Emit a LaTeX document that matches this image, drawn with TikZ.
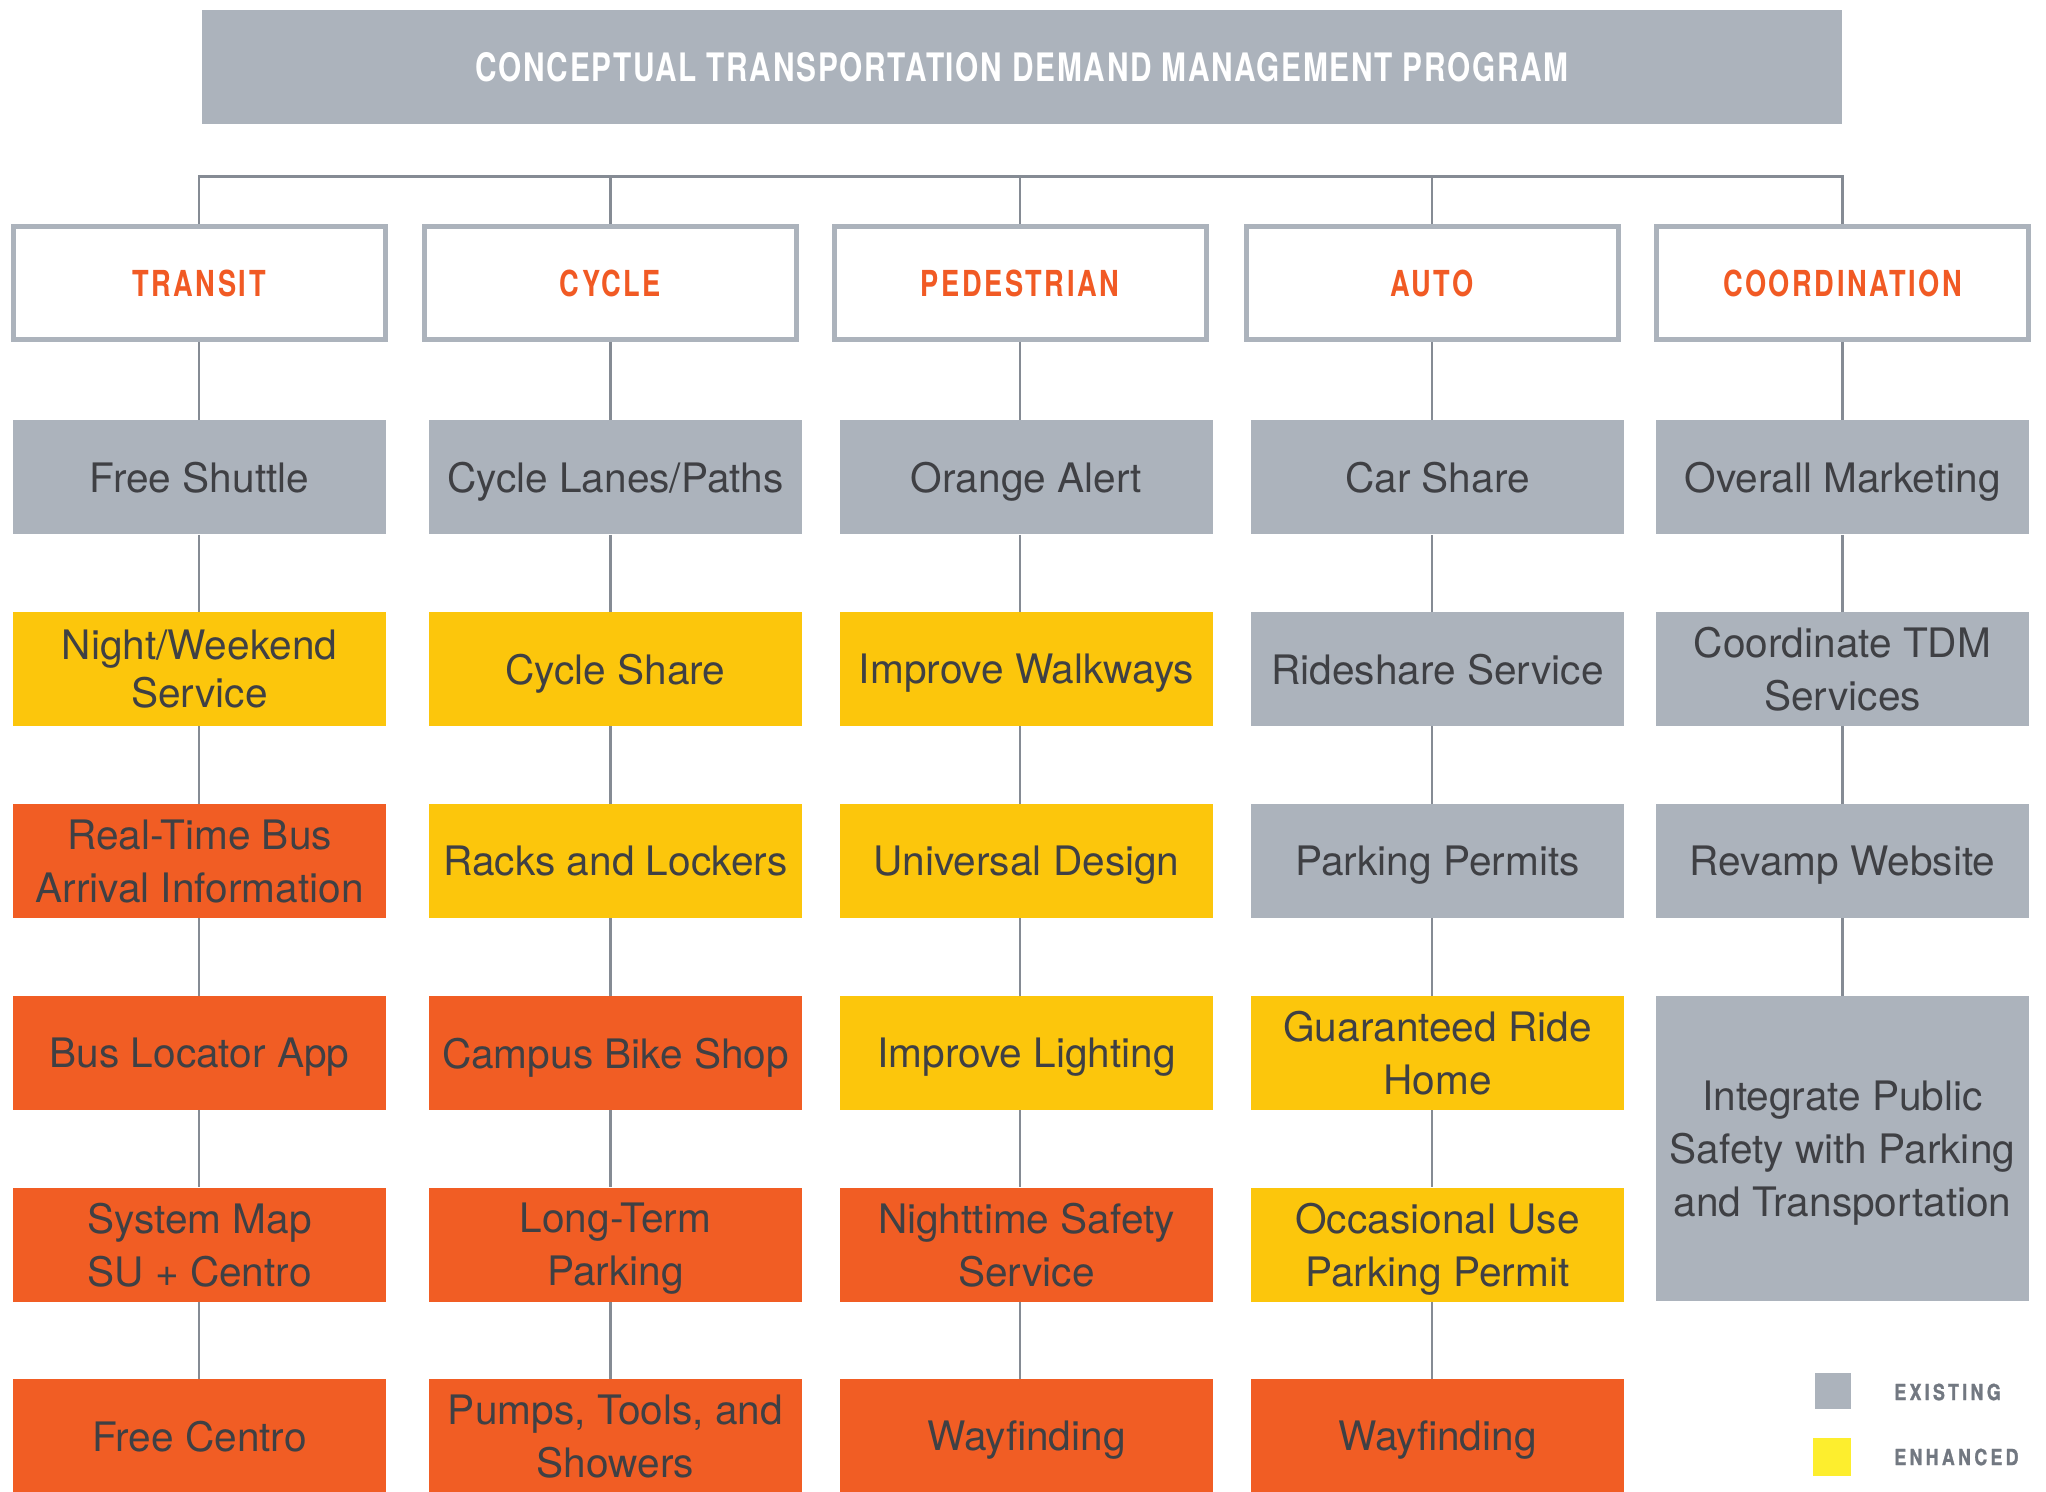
\documentclass[tikz,border=0pt]{standalone}
\usepackage{fontspec}
\setmainfont{TeX Gyre Heros}
\newfontfamily\bodyff{TeX Gyre Heros}
\newfontfamily\titleff[FakeStretch=0.76,LetterSpace=4.4]{texgyreheros-bold.otf}
\newfontfamily\hdrff[FakeStretch=0.76,LetterSpace=7.2]{texgyreheros-bold.otf}
\newfontfamily\legff[FakeStretch=0.8,LetterSpace=15,FakeBold=1.2]{texgyreheros-bold.otf}
\definecolor{gry}{HTML}{ACB3BC}
\definecolor{ylw}{HTML}{FCC60C}
\definecolor{org}{HTML}{F15D24}
\definecolor{horg}{HTML}{F15A24}
\definecolor{txt}{HTML}{3F4044}
\definecolor{lnk}{HTML}{858B94}
\definecolor{lylw}{HTML}{FDEE2E}
\definecolor{legtxt}{HTML}{727881}
\begin{document}
\begin{tikzpicture}[x=0.5pt,y=-0.5pt,
  cbox/.style={minimum width=186.5pt,minimum height=57pt,inner sep=0pt,align=center,text=txt,
    text depth=0pt,font=\bodyff\fontsize{20.3pt}{26.5pt}\selectfont},
  ex/.style={cbox,fill=gry},
  en/.style={cbox,fill=ylw},
  nw/.style={cbox,fill=org},
  hdr/.style={draw=gry,line width=2.5pt,fill=white,minimum width=186pt,minimum height=56.5pt,
    inner sep=0pt,text=horg,font=\hdrff\fontsize{17.9pt}{20pt}\selectfont},
  link/.style={draw=lnk,line width=1.4pt},
  legsq/.style={inner sep=0pt,outer sep=0pt},
  legtx/.style={anchor=west,inner sep=0pt,text=legtxt,font=\legff\fontsize{11.1pt}{13pt}\selectfont}
]
\useasboundingbox (0,0) rectangle (2046,1492);

% title
\node[fill=gry,minimum width=820pt,minimum height=57pt,inner sep=0pt,text=white,
  font=\titleff\fontsize{19.6pt}{22pt}\selectfont] (title) at (1022,67)
  {CONCEPTUAL TRANSPORTATION DEMAND MANAGEMENT PROGRAM};

% headers
\node[hdr] (ht) at (199,283) {TRANSIT};
\node[hdr] (hc) at (610.5,283) {CYCLE};
\node[hdr] (hp) at (1020,283) {PEDESTRIAN};
\node[hdr] (ha) at (1432,283) {AUTO};
\node[hdr] (ho) at (1842.5,283) {COORDINATION};

% transit
\node[ex] (t1) at (199.5,477.5) {Free Shuttle};
\node[en] (t2) at (199.5,669) {Night/Weekend\\[-2.5pt]Service};
\node[nw] (t3) at (199.5,861) {Real-Time Bus\\Arrival Information};
\node[nw] (t4) at (199.5,1053) {Bus Locator App};
\node[nw] (t5) at (199.5,1244.5) {System Map\\SU + Centro};
\node[nw] (t6) at (199.5,1436) {Free Centro};

% cycle
\node[ex] (c1) at (615.5,477.5) {Cycle Lanes/Paths};
\node[en] (c2) at (615.5,669) {Cycle Share};
\node[en] (c3) at (615.5,861) {Racks and Lockers};
\node[nw] (c4) at (615.5,1053) {Campus Bike Shop};
\node[nw] (c5) at (615.5,1244.5) {Long-Term\\Parking};
\node[nw] (c6) at (615.5,1436) {Pumps, Tools, and\\Showers};

% pedestrian
\node[ex] (p1) at (1026.5,477.5) {Orange Alert};
\node[en] (p2) at (1026.5,669) {Improve Walkways};
\node[en] (p3) at (1026.5,861) {Universal Design};
\node[en] (p4) at (1026.5,1053) {Improve Lighting};
\node[nw] (p5) at (1026.5,1244.5) {Nighttime Safety\\Service};
\node[nw] (p6) at (1026.5,1436) {Wayfinding};

% auto
\node[ex] (a1) at (1437.5,477.5) {Car Share};
\node[ex] (a2) at (1437.5,669) {Rideshare Service};
\node[ex] (a3) at (1437.5,861) {Parking Permits};
\node[en] (a4) at (1437.5,1053) {Guaranteed Ride\\Home};
\node[en] (a5) at (1437.5,1244.5) {Occasional Use\\Parking Permit};
\node[nw] (a6) at (1437.5,1436) {Wayfinding};

% coordination
\node[ex] (o1) at (1842.5,477.5) {Overall Marketing};
\node[ex] (o2) at (1842.5,669) {Coordinate TDM\\Services};
\node[ex] (o3) at (1842.5,861) {Revamp Website};
\node[ex,minimum height=152.5pt] (o4) at (1842.5,1148.5) {Integrate Public\\Safety with Parking\\and Transportation};

% bus
\coordinate (bus) at (0,176.5);
\draw[link] (ht.north) -- (ht.north |- bus) -- (ho.north |- bus) -- (ho.north);
\foreach \h in {hc,hp,ha} \draw[link] (\h.north |- bus) -- (\h.north);

% header to first box
\foreach \h/\n in {ht/t1,hc/c1,hp/p1,ha/a1,ho/o1}
  \draw[link] (\h.south) -- (\h.south |- \n.north);

% between boxes
\foreach \h/\u/\v in {ht/t1/t2,ht/t2/t3,ht/t3/t4,ht/t4/t5,ht/t5/t6,
  hc/c1/c2,hc/c2/c3,hc/c3/c4,hc/c4/c5,hc/c5/c6,
  hp/p1/p2,hp/p2/p3,hp/p3/p4,hp/p4/p5,hp/p5/p6,
  ha/a1/a2,ha/a2/a3,ha/a3/a4,ha/a4/a5,ha/a5/a6,
  ho/o1/o2,ho/o2/o3,ho/o3/o4}
  \draw[link] (\h.south |- \u.south) -- (\h.south |- \v.north);

% legend
\node[legsq,fill=gry,minimum size=18pt] (lg1) at (1833,1391) {};
\node[legsq,fill=lylw,minimum size=19pt] (lg2) at (1832,1457) {};
\node[legtx] (lt1) at (1894,1392) {EXISTING};
\node[legtx] (lt2) at (1894,1457) {ENHANCED};
\end{tikzpicture}
\end{document}
